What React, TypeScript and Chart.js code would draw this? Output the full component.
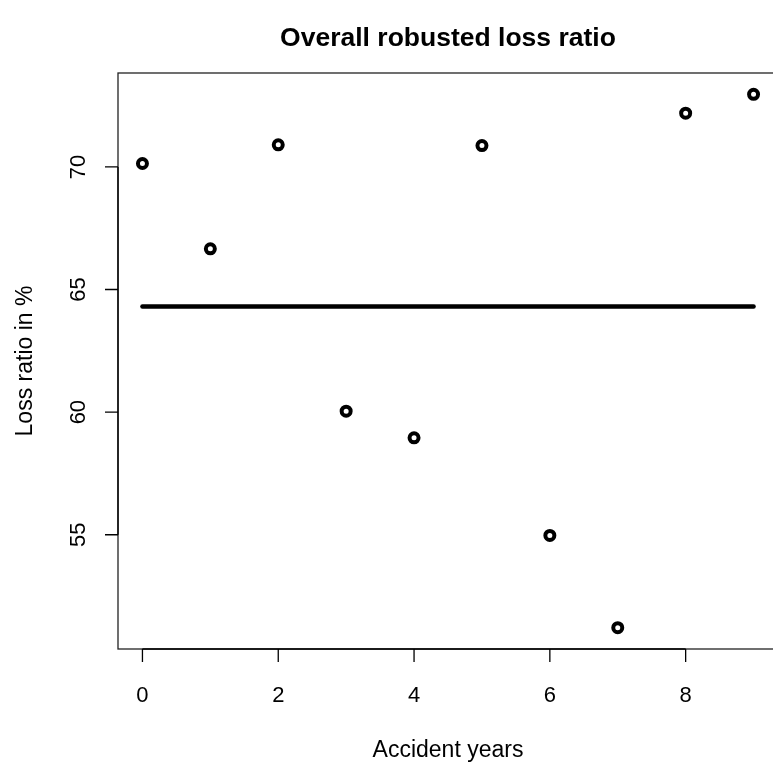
import React, { useEffect, useRef } from "react";
import { Chart, registerables } from "chart.js";

Chart.register(...registerables);

const years = [0, 1, 2, 3, 4, 5, 6, 7, 8, 9];
const lossRatio = [70.14, 66.66, 70.9, 60.04, 58.95, 70.87, 54.97, 51.21, 72.19, 72.96];
const overallRatio = 64.31;
const xTicks = [0, 2, 4, 6, 8];
const yTicks = [55, 60, 65, 70];
const titleText = "Overall robusted loss ratio";
const xTitle = "Accident years";
const yTitle = "Loss ratio in %";

const FONT = '"Liberation Sans", Arial, Helvetica, sans-serif';

const rAxesPlugin = {
  id: "rAxes",
  afterDraw(chart: any) {
    const ctx = chart.ctx as CanvasRenderingContext2D;
    const area = chart.chartArea;
    const xs = chart.scales.x;
    const ys = chart.scales.y;
    ctx.save();
    ctx.strokeStyle = "#222";
    ctx.lineWidth = 1.3;
    ctx.strokeRect(area.left, area.top, area.right - area.left, area.bottom - area.top);
    ctx.strokeStyle = "#000";
    ctx.lineWidth = 1.3;
    const x0 = xs.getPixelForValue(xTicks[0]);
    const x1 = xs.getPixelForValue(xTicks[xTicks.length - 1]);
    ctx.beginPath();
    ctx.moveTo(x0, area.bottom);
    ctx.lineTo(x1, area.bottom);
    xTicks.forEach((t) => {
      const px = xs.getPixelForValue(t);
      ctx.moveTo(px, area.bottom);
      ctx.lineTo(px, area.bottom + 13);
    });
    ctx.stroke();
    const y0 = ys.getPixelForValue(yTicks[0]);
    const y1 = ys.getPixelForValue(yTicks[yTicks.length - 1]);
    ctx.beginPath();
    ctx.moveTo(area.left, y0);
    ctx.lineTo(area.left, y1);
    yTicks.forEach((t) => {
      const py = ys.getPixelForValue(t);
      ctx.moveTo(area.left, py);
      ctx.lineTo(area.left - 13, py);
    });
    ctx.stroke();

    ctx.fillStyle = "#000";
    ctx.font = `22px ${FONT}`;
    ctx.textAlign = "center";
    ctx.textBaseline = "alphabetic";
    xTicks.forEach((t) => {
      ctx.fillText(String(t), xs.getPixelForValue(t), 702);
    });
    yTicks.forEach((t) => {
      ctx.save();
      ctx.translate(85, ys.getPixelForValue(t));
      ctx.rotate(-Math.PI / 2);
      ctx.fillText(String(t), 0, 0);
      ctx.restore();
    });
    const cx = (area.left + area.right) / 2;
    const cy = (area.top + area.bottom) / 2;
    ctx.font = `23px ${FONT}`;
    ctx.fillText(xTitle, cx, 757);
    ctx.save();
    ctx.translate(32, cy);
    ctx.rotate(-Math.PI / 2);
    ctx.fillText(yTitle, 0, 0);
    ctx.restore();

    ctx.font = `bold 26.5px ${FONT}`;
    ctx.fillText(titleText, cx, 46);
    ctx.restore();
  },
};

export default function App() {
  const ref = useRef<HTMLCanvasElement | null>(null);
  useEffect(() => {
    if (!ref.current) return;
    const chart = new Chart(ref.current, {
      type: "scatter",
      data: {
        datasets: [
          {
            data: years.map((y, i) => ({ x: y, y: lossRatio[i] })),
            pointStyle: "circle",
            pointRadius: 4.5,
            pointBorderWidth: 4,
            pointBorderColor: "#000",
            pointBackgroundColor: "rgba(0,0,0,0)",
            showLine: false,
          },
          {
            data: [
              { x: years[0], y: overallRatio },
              { x: years[years.length - 1], y: overallRatio },
            ],
            showLine: true,
            borderColor: "#000",
            borderWidth: 4.5,
            borderCapStyle: "round",
            pointRadius: 0,
          },
        ],
      },
      options: {
        responsive: false,
        animation: false,
        devicePixelRatio: 1,
        layout: { padding: { left: 118, top: 73, right: 12, bottom: 114 } },
        plugins: { legend: { display: false }, tooltip: { enabled: false }, title: { display: false } },
        scales: {
          x: { type: "linear", min: -0.36, max: 9.36, display: false },
          y: { type: "linear", min: 50.34, max: 73.83, display: false },
        },
      },
      plugins: [rAxesPlugin],
    });
    return () => chart.destroy();
  }, []);
  return (
    <div
      style={{
        position: "fixed",
        left: 0,
        top: 0,
        width: 773,
        height: 763,
        overflow: "hidden",
        background: "#fff",
      }}
    >
      <canvas ref={ref} width={790} height={763} style={{ display: "block" }} />
    </div>
  );
}
